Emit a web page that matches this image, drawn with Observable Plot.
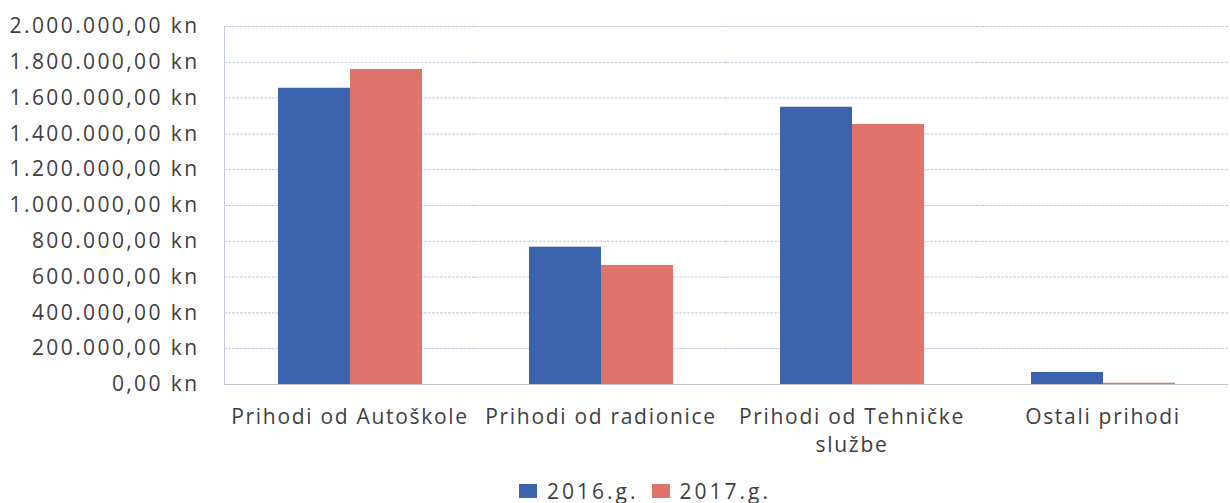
<!DOCTYPE html>
<html>
<head>
<meta charset="utf-8">
<script src="https://cdn.jsdelivr.net/npm/d3@7"></script>
<script src="https://cdn.jsdelivr.net/npm/@observablehq/plot@0.6"></script>
<style>
  html, body { margin: 0; padding: 0; background: #ffffff; }
  #chart { width: 1230px; }
  #chart svg g[aria-label="frame"] line, #chart svg g[aria-label="frame"] rect { stroke: #c5cbdc; }
  #chart svg g[aria-label="y-axis tick label"] { letter-spacing: 2.4px; }
  #chart svg g[aria-label="fx-axis tick label"] { letter-spacing: 1.7px; }
  .legend { display: flex; justify-content: center; align-items: center; gap: 13px;
            font-family: "Open Sans", Lato, sans-serif; font-size: 21px; color: #404040;
            letter-spacing: 3px; height: 38px; margin-left: 60px; padding-top: 7px; }
  .legend span.item { display: flex; align-items: center; gap: 10px; }
  .legend span.sw { display: inline-block; width: 18px; height: 14px; }
</style>
</head>
<body>
<div id="chart"></div>
<script>
const categories = ["Prihodi od Autoškole", "Prihodi od radionice", "Prihodi od Tehničke službe", "Ostali prihodi"];
const xTickLabels = ["Prihodi od Autoškole", "Prihodi od radionice", "Prihodi od Tehničke\nslužbe", "Ostali prihodi"];
const years = ["2016.g.", "2017.g."];
const values2016 = [1655000, 767000, 1549000, 67000];
const values2017 = [1760000, 665000, 1453000, 7000];
const yTicks = [0, 200000, 400000, 600000, 800000, 1000000, 1200000, 1400000, 1600000, 1800000, 2000000];
const colors = ["#3c63ae", "#e0736c"];

const data = categories.flatMap((c, i) => [
  {cat: c, year: years[0], value: values2016[i]},
  {cat: c, year: years[1], value: values2017[i]}
]);

const hr = d3.formatLocale({decimal: ",", thousands: ".", grouping: [3], currency: ["", " kn"]});
const fmtNum = hr.format(",.2f");
const yFormat = d => fmtNum(d) + " kn";
const xLabel = d => xTickLabels[categories.indexOf(d)];

const chart = Plot.plot({
  width: 1230,
  height: 465,
  marginTop: 26,
  marginBottom: 81,
  marginLeft: 223,
  marginRight: 2,
  style: {fontFamily: "'Open Sans', Lato, sans-serif", fontSize: "21px", color: "#404040", background: "#ffffff"},
  fx: {domain: categories, padding: 0, label: null},
  x: {domain: years, paddingInner: 0, paddingOuter: 0.72, axis: null},
  y: {domain: [0, 2000000], ticks: yTicks, tickFormat: yFormat, label: null, tickSize: 0, tickPadding: 25, line: true},
  color: {domain: years, range: colors},
  marks: [
    Plot.gridY(yTicks, {stroke: "#c5cbdc", strokeOpacity: 1, strokeDasharray: "3,1"}),
    Plot.ruleY([0], {stroke: "#c0c5d2", strokeOpacity: 1}),
    Plot.barY(data, {fx: "cat", x: "year", y: "value", fill: "year"}),
    Plot.axisFx({anchor: "bottom", tickSize: 0, tickPadding: 19, tickFormat: xLabel, lineHeight: 1.35, label: null, fill: "#404040"})
  ]
});
document.getElementById("chart").appendChild(chart);

const legend = document.createElement("div");
legend.className = "legend";
years.forEach((y, i) => {
  const item = document.createElement("span");
  item.className = "item";
  const sw = document.createElement("span");
  sw.className = "sw";
  sw.style.background = colors[i];
  const t = document.createElement("span");
  t.textContent = y;
  item.appendChild(sw); item.appendChild(t);
  legend.appendChild(item);
});
document.body.appendChild(legend);
</script>
</body>
</html>
